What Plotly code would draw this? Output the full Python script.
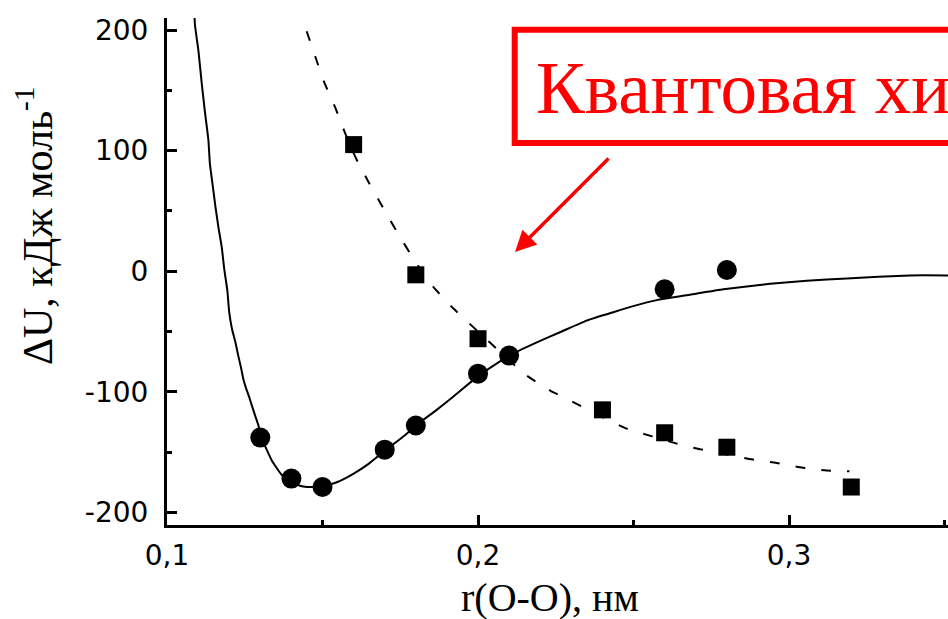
import plotly.graph_objects as go

# Calculated interaction energies (circles) and second data set (squares)
r_circles = [0.13, 0.14, 0.15, 0.17, 0.18, 0.20, 0.21, 0.26, 0.28]
dU_circles = [-138, -172, -179, -148, -128, -85, -70, -15, 1]

r_squares = [0.16, 0.18, 0.20, 0.24, 0.26, 0.28, 0.32]
dU_squares = [105, -3, -56, -115, -134, -146, -179]

# Fitted potential curve through the circles
fit_r = [0.1086, 0.1090, 0.1101, 0.1112, 0.1122, 0.1133, 0.1138, 0.1147, 0.1156,
         0.1165, 0.1176, 0.1184, 0.1194, 0.1200, 0.1209, 0.1220, 0.1229, 0.1238,
         0.1245, 0.1254, 0.1265, 0.1276, 0.1285, 0.1294, 0.1302, 0.1337, 0.1369,
         0.1400, 0.1428, 0.1450, 0.1500, 0.1546, 0.1599, 0.1647, 0.1700, 0.1765,
         0.1800, 0.1867, 0.1921, 0.2000, 0.2100, 0.2189, 0.2269, 0.2349, 0.2435,
         0.2499, 0.2575, 0.2682, 0.2789, 0.2939, 0.3057, 0.3186, 0.3389, 0.3515]
fit_dU = [225, 204, 183, 155, 132, 109, 89, 71, 53,
          37, 20, 2, -16, -34, -48, -59, -70, -80,
          -89, -97, -105, -114, -121, -128, -137, -157, -169,
          -174, -178, -179, -178.5, -175, -168, -160, -149, -136,
          -128, -115, -104, -87, -70, -59, -50, -41, -34,
          -29, -24, -19.5, -15, -10.5, -8, -6, -3.5, -3.5]

# Dashed trend through the squares
dash_r = [0.1449, 0.1478, 0.1505, 0.1542, 0.1575, 0.1608, 0.1650, 0.1696, 0.1741,
          0.1792, 0.1846, 0.1921, 0.2000, 0.2075, 0.2151, 0.2232, 0.2317, 0.2400,
          0.2478, 0.2560, 0.2639, 0.2714, 0.2800, 0.2880, 0.2960, 0.3044, 0.3121,
          0.3194]
dash_dU = [199, 177, 157, 135, 113, 93.5, 73, 52, 32,
           10.5, -10, -31, -50, -68, -85.5, -99, -110, -121,
           -130.6, -137, -143, -147.7, -152, -156, -159, -163, -165.4,
           -166]

x_ticks = [0.1, 0.2, 0.3]
x_tick_text = ["0,1", "0,2", "0,3"]
x_minor = [0.15, 0.25, 0.35]
y_ticks = [-200, -100, 0, 100, 200]
y_tick_text = ["-200", "-100", "0", "100", "200"]
y_minor = [-150, -50, 50, 150]

W, H = 948, 619
ML, MR, MT, MB = 167, 0, 18, 94
PW, PH = W - ML - MR, H - MT - MB


def px_x(px):
    return (px - ML) / PW


def px_y(py):
    return (H - MB - py) / PH


fig = go.Figure()

fig.add_trace(go.Scatter(x=fit_r, y=fit_dU, mode="lines",
                         line=dict(color="black", width=2, shape="spline", smoothing=0.4),
                         hoverinfo="skip", showlegend=False))
fig.add_trace(go.Scatter(x=dash_r, y=dash_dU, mode="lines",
                         line=dict(color="black", width=2, dash="10px,16px",
                                   shape="spline", smoothing=0.5),
                         hoverinfo="skip", showlegend=False))
fig.add_trace(go.Scatter(x=r_circles, y=dU_circles, mode="markers",
                         marker=dict(symbol="circle", size=20, color="black"),
                         showlegend=False))
fig.add_trace(go.Scatter(x=r_squares, y=dU_squares, mode="markers",
                         marker=dict(symbol="square", size=17, color="black"),
                         showlegend=False))

tick_font = dict(family="DejaVu Sans", size=28, color="black")

fig.update_xaxes(range=[0.1, 0.3511], showline=True, linewidth=3, linecolor="black",
                 ticks="inside", ticklen=10, tickwidth=3, tickcolor="black",
                 tickmode="array", tickvals=x_ticks, ticktext=x_tick_text,
                 minor=dict(ticks="inside", ticklen=5, tickwidth=3, tickcolor="black",
                            tickmode="array", tickvals=x_minor),
                 showgrid=False, zeroline=False, tickfont=tick_font,
                 ticklabelstandoff=3)
fig.update_yaxes(range=[-210.5, 210], showline=True, linewidth=3, linecolor="black",
                 ticks="inside", ticklen=10, tickwidth=3, tickcolor="black",
                 tickmode="array", tickvals=y_ticks, ticktext=y_tick_text,
                 minor=dict(ticks="inside", ticklen=5, tickwidth=3, tickcolor="black",
                            tickmode="array", tickvals=y_minor),
                 showgrid=False, zeroline=False, tickfont=tick_font,
                 ticklabelstandoff=10)

serif = "Liberation Serif, Times New Roman, serif"

# Callout box
fig.add_shape(type="rect", xref="paper", yref="paper",
              x0=px_x(514.7), x1=px_x(1100), y0=px_y(143), y1=px_y(29.7),
              line=dict(color="#ff0000", width=6), fillcolor="white", layer="above")

annotations = [
    dict(text="Квантовая химия", xref="paper", yref="paper",
         x=px_x(534), y=px_y(88), xanchor="left", yanchor="middle",
         showarrow=False, font=dict(family=serif, size=73, color="#ff0000")),
    dict(text="", x=0.1 + (515 - ML) / 3110, y=(271.2 - 252) / 1.2057,
         xref="x", yref="y", ax=95, ay=-95, showarrow=True,
         arrowhead=2, arrowsize=1.2, arrowwidth=3.5, arrowcolor="#ff0000", standoff=0),
    dict(text="r(O-O), нм", xref="paper", yref="paper",
         x=px_x(550), y=px_y(597), xanchor="center", yanchor="middle",
         showarrow=False, font=dict(family=serif, size=40, color="black")),
    dict(text="ΔU, кДж моль<sup>-1</sup>", xref="paper", yref="paper",
         x=px_x(34), y=px_y(226), xanchor="center", yanchor="middle", textangle=-90,
         showarrow=False, font=dict(family=serif, size=42, color="black")),
]

fig.update_layout(width=W, height=H, margin=dict(l=ML, r=MR, t=MT, b=MB),
                  paper_bgcolor="white", plot_bgcolor="white",
                  annotations=annotations, showlegend=False)

fig.write_html("out.html")
